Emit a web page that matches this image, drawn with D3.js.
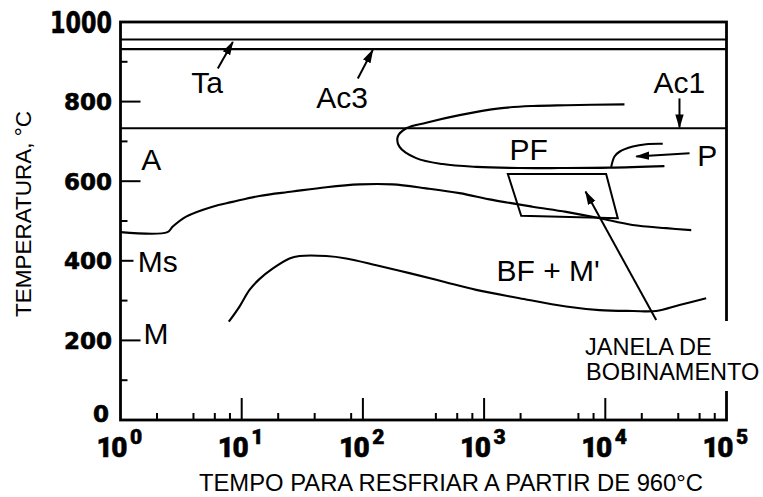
<!DOCTYPE html>
<html>
<head>
<meta charset="utf-8">
<script src="https://cdn.jsdelivr.net/npm/d3@7/dist/d3.min.js"></script>
<style>
  html, body { margin: 0; padding: 0; background: #fff; }
  svg { display: block; }
</style>
</head>
<body>
<svg id="chart" width="763" height="497"></svg>
<script>
// Cooling-time axis (s, log) and temperature axis (°C)
const timeDomain = [1, 100000];
const tempDomain = [0, 1000];

const xMajor = [1, 10, 100, 1000, 10000, 100000];
const xExponents = ["0", "1", "2", "3", "4", "5"];
const xMinor = [2, 4, 6, 8, 20, 40, 80, 400, 600, 800, 2000, 6000, 8000, 20000, 40000, 60000, 80000];
const yMajor = [0, 200, 400, 600, 800, 1000];
const yMinor = [100, 300, 500, 700, 900];

// Critical temperatures (horizontal lines)
const critNames = ["Ta", "Ac3", "Ac1"];
const critTemps = [956, 932, 733];

// Bainite start curve (upper transformation line)
const bsTime = [1, 2.44, 2.70, 3.48, 5.74, 8.4, 14.0, 26.2, 49.8, 93.8, 175, 333, 627, 1172, 2506, 4753, 8954, 16750, 31770, 51170];
const bsTemp = [472, 472, 486, 511, 536, 548, 563, 574, 585, 592, 592, 582, 570, 553, 536, 523, 507, 490, 482, 477];

// Lower transformation curve
const lowTime = [7.83, 9.59, 11.6, 14.0, 18.1, 24.8, 30.0, 49.8, 72.8, 129, 242, 456, 861, 1959, 4753, 8954, 16870, 26300, 40930, 67920];
const lowTemp = [247, 285, 327, 354, 381, 406, 412, 412, 406, 389, 369, 348, 327, 306, 285, 276, 274, 274, 289, 306];

// Polygonal ferrite C-curve (upper branch -> nose -> lower branch)
const pfTime = [14390, 4753, 2523, 1340, 627, 333, 228, 194, 200, 275, 456, 861, 1959, 4170, 10840, 30760];
const pfTemp = [793, 791, 789, 783, 766, 747, 733, 712, 687, 658, 643, 636, 633, 633, 634, 638];

// Pearlite start
const pTime = [11190, 11910, 13090, 16870, 21730, 29790];
const pTemp = [636, 662, 674, 687, 693, 694];

// Coiling window (quadrilateral)
const winTime = [1570, 10160, 12680, 2023];
const winTemp = [618, 618, 507, 513];

// Region / line labels: text, time, temperature
const labelText = ["Ta", "Ac3", "Ac1", "A", "PF", "P", "Ms", "M", "BF + M'"];
const labelTime = [3.84, 41.2, 25000, 1.48, 1622, 57300, 1.39, 1.55, 1265];
const labelTemp = [822, 784, 822, 628, 653, 638, 373, 191, 348];

// Arrows: from (time, temp) to tip (time, temp)
const arrowFromTime = [6.35, 90.8, 40930, 49550, 26300];
const arrowFromTemp = [883, 858, 808, 670, 251];
const arrowToTime = [8.45, 120.7, 40930, 17990, 6870];
const arrowToTemp = [950, 930, 735, 662, 574];

const svg = d3.select("#chart");
const x = d3.scaleLog().domain(timeDomain).range([120.5, 726.5]);
const y = d3.scaleLinear().domain(tempDomain).range([420, 22]);
const [x0, x1] = x.range();
const [y0, y1] = y.range();

const sans = "'Liberation Sans', Arial, sans-serif";
const bold = "'DejaVu Sans', sans-serif";
const heavy = "Roboto, 'DejaVu Sans', sans-serif";

svg.append("defs").append("marker")
  .attr("id", "head")
  .attr("markerUnits", "userSpaceOnUse")
  .attr("viewBox", "0 -5 14 10")
  .attr("refX", 13).attr("refY", 0)
  .attr("markerWidth", 14).attr("markerHeight", 10)
  .attr("orient", "auto")
  .append("path").attr("d", "M0,-4.2L14,0L0,4.2Z").attr("fill", "#000");

// Critical temperature lines
svg.selectAll("line.crit").data(critTemps).enter().append("line")
  .attr("class", "crit")
  .attr("x1", x0).attr("x2", x1)
  .attr("y1", d => y(d)).attr("y2", d => y(d))
  .attr("stroke", "#000").attr("stroke-width", 2.2);

const pts = (ts, vs) => ts.map((t, i) => [x(t), y(vs[i])]);
const smooth = d3.line().curve(d3.curveCatmullRom.alpha(0.5));

const curves = [pts(bsTime, bsTemp), pts(lowTime, lowTemp), pts(pfTime, pfTemp), pts(pTime, pTemp)];
svg.selectAll("path.curve").data(curves).enter().append("path")
  .attr("class", "curve")
  .attr("d", d => smooth(d))
  .attr("fill", "none").attr("stroke", "#000").attr("stroke-width", 2.1)
  .attr("stroke-linejoin", "round");

// Coiling window
svg.append("path")
  .attr("d", d3.line()(pts(winTime, winTemp)) + "Z")
  .attr("fill", "none").attr("stroke", "#000").attr("stroke-width", 2);

// Arrows
svg.selectAll("line.arrow").data(arrowFromTime).enter().append("line")
  .attr("class", "arrow")
  .attr("x1", (d, i) => x(arrowFromTime[i])).attr("y1", (d, i) => y(arrowFromTemp[i]))
  .attr("x2", (d, i) => x(arrowToTime[i])).attr("y2", (d, i) => y(arrowToTemp[i]))
  .attr("stroke", "#000").attr("stroke-width", 2)
  .attr("marker-end", "url(#head)");

// Frame
svg.append("rect")
  .attr("x", x0).attr("y", y1)
  .attr("width", x1 - x0).attr("height", y0 - y1)
  .attr("fill", "none").attr("stroke", "#000").attr("stroke-width", 2.8);

// Ticks on left axis
svg.selectAll("line.ymaj").data(yMajor.filter(v => v > 0 && v < 1000)).enter().append("line")
  .attr("class", "ymaj")
  .attr("x1", x0).attr("x2", d => x0 + (d === 400 ? 13 : 20))
  .attr("y1", d => y(d)).attr("y2", d => y(d))
  .attr("stroke", "#000").attr("stroke-width", 2);
svg.selectAll("line.ymin").data(yMinor).enter().append("line")
  .attr("class", "ymin")
  .attr("x1", x0).attr("x2", x0 + 7)
  .attr("y1", d => y(d)).attr("y2", d => y(d))
  .attr("stroke", "#000").attr("stroke-width", 2);

// Ticks on bottom axis
svg.selectAll("line.xmaj").data(xMajor.slice(1, -1)).enter().append("line")
  .attr("class", "xmaj")
  .attr("x1", d => x(d)).attr("x2", d => x(d))
  .attr("y1", y0).attr("y2", y0 - 22)
  .attr("stroke", "#000").attr("stroke-width", 2);
svg.selectAll("line.xmin").data(xMinor).enter().append("line")
  .attr("class", "xmin")
  .attr("x1", d => x(d)).attr("x2", d => x(d))
  .attr("y1", y0).attr("y2", y0 - 7)
  .attr("stroke", "#000").attr("stroke-width", 2);

// Temperature tick labels
svg.selectAll("text.ylab").data(yMajor).enter().append("text")
  .attr("class", "ylab")
  .attr("x", d => d === 0 ? 109 : 112)
  .attr("y", d => y(d) + (d === 1000 ? 10.5 : d === 0 ? 2 : 8.5))
  .attr("text-anchor", "end")
  .attr("font-family", bold).attr("font-weight", "bold")
  .attr("font-size", d => d === 1000 ? 30 : 23)
  .attr("stroke", "#000").attr("stroke-width", 0.6)
  .each(function (d) {
    if (d === 1000) d3.select(this).attr("textLength", 62).attr("lengthAdjust", "spacingAndGlyphs");
  })
  .text(d => d);

// Time tick labels as powers of ten (one text element each)
const xl = svg.selectAll("text.xlab").data(xMajor).enter().append("text")
  .attr("class", "xlab")
  .attr("x", d => x(d) - 24).attr("y", 456.5)
  .attr("font-family", heavy).attr("font-weight", 900)
  .attr("stroke", "#000").attr("stroke-width", 0.5);
xl.append("tspan")
  .attr("font-size", 28).attr("letter-spacing", -1.5)
  .text("10");
xl.append("tspan")
  .attr("dx", 4).attr("dy", -13)
  .attr("font-size", 21)
  .text((d, i) => xExponents[i]);

// Region labels
svg.selectAll("text.lab").data(labelText).enter().append("text")
  .attr("class", "lab")
  .attr("x", (d, i) => x(labelTime[i])).attr("y", (d, i) => y(labelTemp[i]))
  .attr("font-family", sans).attr("font-size", 30)
  .text(d => d);

// Coiling window caption on a white patch over the frame
svg.append("rect").attr("x", 578).attr("y", 321).attr("width", 185).attr("height", 70).attr("fill", "#fff");
const cap = svg.append("text")
  .attr("font-family", sans).attr("font-size", 23.5);
cap.append("tspan").attr("x", 585).attr("y", 355).text("JANELA DE");
cap.append("tspan").attr("x", 586).attr("y", 380).text("BOBINAMENTO");

// Axis titles
svg.append("text")
  .attr("transform", "translate(31,214) rotate(-90)")
  .attr("text-anchor", "middle")
  .attr("font-family", sans).attr("font-size", 22.5)
  .text("TEMPERATURA, °C");
svg.append("text")
  .attr("x", 451).attr("y", 491)
  .attr("text-anchor", "middle")
  .attr("font-family", sans).attr("font-size", 23.8)
  .text("TEMPO PARA RESFRIAR A PARTIR DE 960°C");
</script>
</body>
</html>
